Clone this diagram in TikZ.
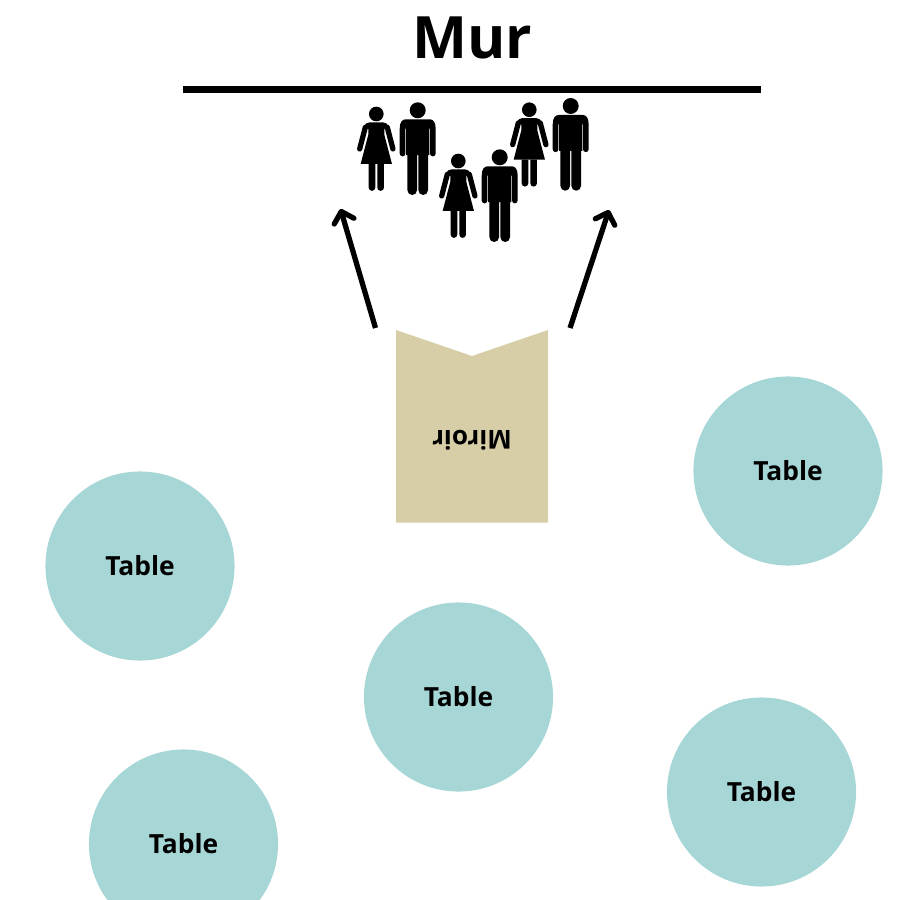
\documentclass[tikz,border=0pt]{standalone}
\usepackage{fontspec}
\setmainfont{Open Sans}
\usetikzlibrary{arrows.meta}
\definecolor{tablecol}{HTML}{A7D6D6}
\definecolor{mirrorcol}{HTML}{D7CDA6}
\tikzset{
  tablenode/.style={circle,fill=tablecol,minimum size=1.89cm,inner sep=0pt,font=\fontsize{7.5}{8}\selectfont\bfseries,text=black},
  arrowline/.style={line width=1.5pt,black,-{Straight Barb[length=1mm,width=2.05mm,line width=1.5pt,round]}},
  man/.pic={
    \begin{scope}[x=0.00333cm,y=-0.00333cm]
      \fill (0,0) circle (24);
      \fill (-54,55) .. controls (-54,35) and (-46,27) .. (-36,27) -- (36,27) .. controls (46,27) and (54,35) .. (54,55) -- (54,130) arc (0:180:8.5) -- (37,55) -- (35,55) -- (35,135) -- (31,135) -- (31,240) arc (0:180:14.5) -- (2,135) -- (-2,135) -- (-2,240) arc (0:180:14.5) -- (-31,135) -- (-35,135) -- (-35,55) -- (-37,55) -- (-37,130) arc (0:180:8.5) -- cycle;
    \end{scope}},
  woman/.pic={
    \begin{scope}[x=0.00333cm,y=-0.00333cm]
      \fill (0,0) circle (22);
      \fill (-47,150) -- (-24,62) -- (-24,45) -- (-38,38) .. controls (-34,30) and (-28,25) .. (-20,25) -- (20,25) .. controls (28,25) and (34,30) .. (38,38) -- (24,45) -- (24,62) -- (47,150) -- cycle;
      \draw[line width=1.5pt,line cap=round] (-33,40) -- (-50,105);
      \draw[line width=1.5pt,line cap=round] (33,40) -- (50,105);
      \fill (-23,150) -- (-3,150) -- (-3,221) arc (0:180:10) -- cycle;
      \fill (3,150) -- (23,150) -- (23,221) arc (0:180:10) -- cycle;
    \end{scope}}
}
\begin{document}
\begin{tikzpicture}[x=0.01cm,y=-0.01cm]
  \useasboundingbox (0,0) rectangle (900,900);
  \clip (0,0) rectangle (900,900);
  \node[font=\fontsize{16.6}{18}\selectfont\bfseries,inner sep=0pt] (title) at (472,38) {Mur};
  \coordinate (wallL) at (183,89.5);
  \coordinate (wallR) at (761,89.5);
  \draw[line width=1.9pt] (wallL) -- (wallR);
  \pic at (376.3,114) {woman};
  \pic at (417.7,110.3) {man};
  \pic at (458.3,161) {woman};
  \pic at (499.7,157.3) {man};
  \pic at (529.3,109.7) {woman};
  \pic at (570.7,106) {man};
  \coordinate (aL0) at (375.5,328);
  \coordinate (aL1) at (340.5,209);
  \coordinate (aR0) at (570,328);
  \coordinate (aR1) at (609,210);
  \draw[arrowline] (aL0) -- (aL1);
  \draw[arrowline] (aR0) -- (aR1);
  \fill[mirrorcol] (396,330) -- (472,356) -- (548,330) -- (548,522.5) -- (396,522.5) -- cycle;
  \node[rotate=180,font=\fontsize{7.4}{8}\selectfont\bfseries,inner sep=0pt] (miroir) at (472,440) {Miroir};
  \node[tablenode] (t1) at (140,566) {Table};
  \node[tablenode] (t2) at (788,471) {Table};
  \node[tablenode] (t3) at (458.5,697) {Table};
  \node[tablenode] (t4) at (761.5,792) {Table};
  \node[tablenode] (t5) at (183.5,844) {Table};
\end{tikzpicture}
\end{document}
